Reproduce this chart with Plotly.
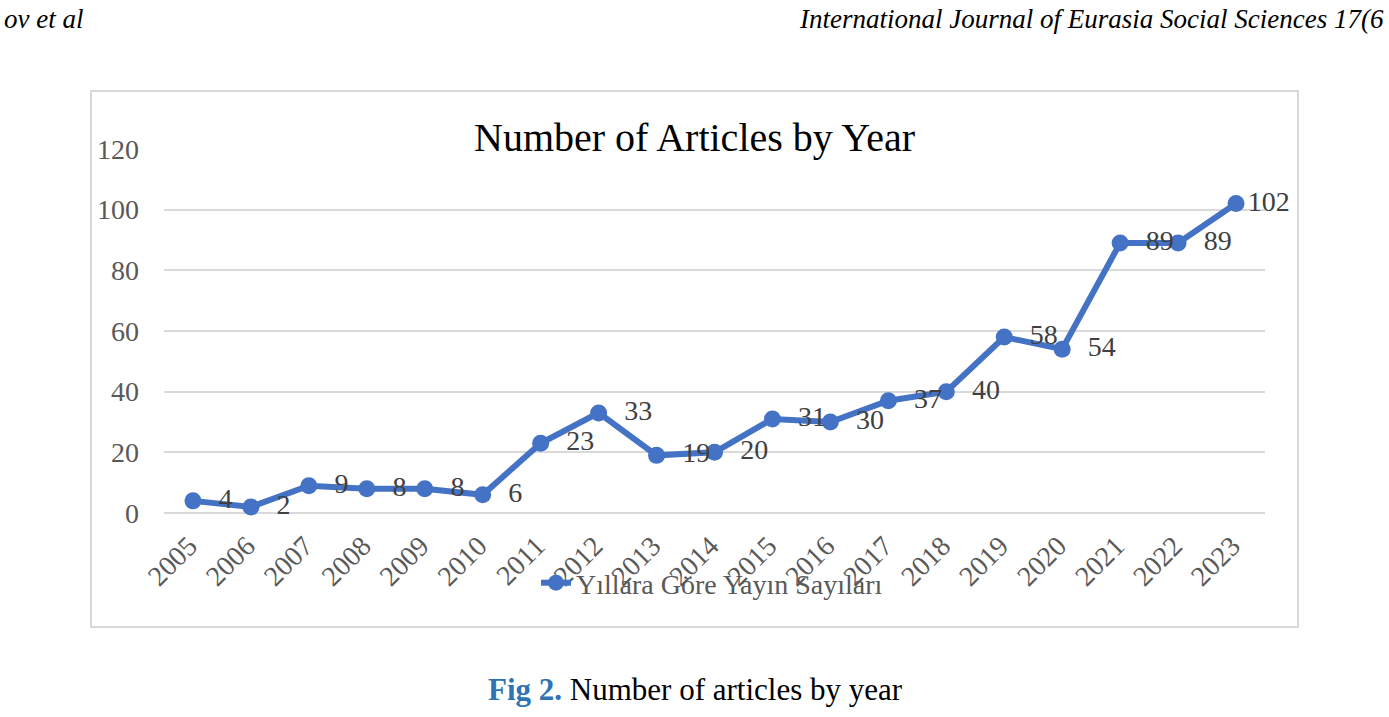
import plotly.graph_objects as go

years = ["2005", "2006", "2007", "2008", "2009", "2010", "2011", "2012", "2013", "2014",
         "2015", "2016", "2017", "2018", "2019", "2020", "2021", "2022", "2023"]
counts = [4, 2, 9, 8, 8, 6, 23, 33, 19, 20, 31, 30, 37, 40, 58, 54, 89, 89, 102]
y_ticks = [0, 20, 40, 60, 80, 100, 120]

W, H = 1389, 717
FONT = "Liberation Serif"
BLUE = "#4472C4"
GRID = "#D9D9D9"

def px(x):
    return x / W

def py(y):
    return (H - y) / H

# label padding (last label sits closer to its marker, as in the original)
pads = ["  "] * (len(counts) - 1) + [""]
labels = [p + str(v) for p, v in zip(pads, counts)]

fig = go.Figure()
fig.add_trace(go.Scatter(
    x=years, y=counts, mode="lines+markers+text",
    name="Yıllara Göre Yayın Sayıları",
    line=dict(color=BLUE, width=6),
    marker=dict(color=BLUE, size=17),
    text=labels,
    textposition="middle right",
    textfont=dict(family=FONT, size=28, color="#404040"),
    cliponaxis=False,
))

fig.update_layout(
    width=W, height=H,
    margin=dict(l=0, r=0, t=0, b=0, autoexpand=False),
    paper_bgcolor="white", plot_bgcolor="white",
    font=dict(family=FONT, color="#595959"),
    showlegend=True,
    legend=dict(orientation="h", x=px(712), xanchor="center", y=py(583), yanchor="middle",
                bgcolor="rgba(0,0,0,0)", font=dict(family=FONT, size=28, color="#595959")),
    xaxis=dict(domain=[px(164), px(1265)], type="category", range=[-0.5, 18.5],
               tickangle=-45, automargin=False,
               showgrid=False, showline=False, ticks="",
               ticklabelstandoff=10, ticklabelshift=-4,
               tickfont=dict(family=FONT, size=28, color="#595959")),
    yaxis=dict(domain=[py(513), py(149)], range=[0, 120], tickvals=y_ticks,
               automargin=False,
               showgrid=True, gridcolor=GRID, gridwidth=1.5, zeroline=True,
               zerolinecolor=GRID, zerolinewidth=1.5, showline=False, ticks="",
               ticklabelstandoff=24,
               tickfont=dict(family=FONT, size=28, color="#595959")),
)

# chart border
fig.add_shape(type="rect", xref="paper", yref="paper",
              x0=px(91), x1=px(1298), y0=py(627), y1=py(91),
              line=dict(color=GRID, width=2), layer="below")

# title
fig.add_annotation(text="Number of Articles by Year", xref="paper", yref="paper",
                   x=px(694), y=py(138), xanchor="center", yanchor="middle",
                   showarrow=False, font=dict(family=FONT, size=40, color="#000000"))

# page header
fig.add_annotation(text="<i>ov et al</i>", xref="paper", yref="paper",
                   x=px(2), y=py(2), xanchor="left", yanchor="top",
                   showarrow=False, font=dict(family=FONT, size=27, color="#000000"))
fig.add_annotation(text="<i>International Journal of Eurasia Social Sciences 17(6</i>",
                   xref="paper", yref="paper",
                   x=px(1386), y=py(2), xanchor="right", yanchor="top",
                   showarrow=False, font=dict(family=FONT, size=27, color="#000000"))

# caption
fig.add_annotation(text="<b><span style='color:#2E74B5'>Fig 2.</span></b> Number of articles by year",
                   xref="paper", yref="paper",
                   x=px(696), y=py(689), xanchor="center", yanchor="middle",
                   showarrow=False, font=dict(family=FONT, size=31, color="#000000"))

fig.write_html("out.html")
